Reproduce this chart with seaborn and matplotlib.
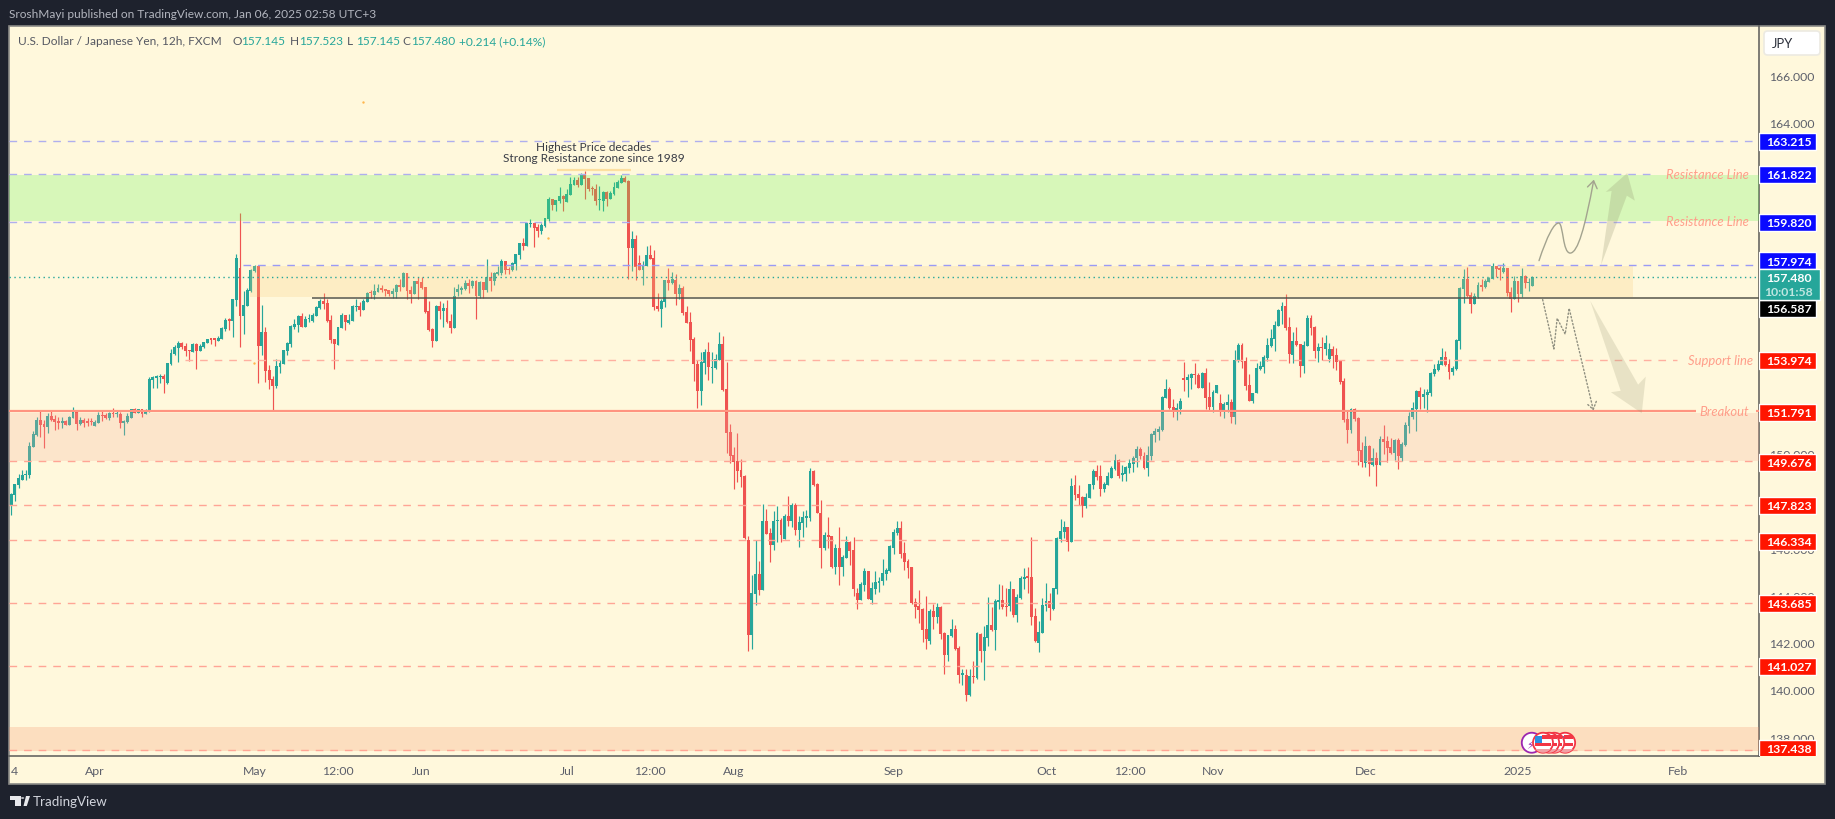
import numpy as np
import pandas as pd
import matplotlib
matplotlib.use("Agg")
import matplotlib.pyplot as plt
from matplotlib.patches import Rectangle, FancyArrowPatch, FancyBboxPatch, Polygon, Ellipse
from matplotlib.path import Path
import seaborn as sns

# USD/JPY 12h candles
opens = [
    147.80, 148.25, 148.69, 148.87, 149.08, 149.10, 150.30, 150.79, 151.41, 151.26,
    151.14, 151.59, 151.47, 151.38, 151.31, 151.38, 151.23, 151.50, 151.76, 151.24,
    151.41, 151.35, 151.35, 151.18, 151.31, 151.64, 151.62, 151.51, 151.73, 151.66,
    151.68, 151.31, 151.34, 151.52, 151.88, 151.73, 151.88, 151.69, 151.79, 153.13,
    153.22, 153.23, 153.29, 152.99, 153.80, 154.22, 154.49, 154.68, 154.54, 154.37,
    154.32, 154.63, 154.36, 154.50, 154.68, 154.85, 154.85, 154.77, 154.85, 155.28,
    155.67, 155.63, 156.52, 157.86, 155.84, 156.26, 156.90, 157.73, 157.94, 154.57,
    155.15, 153.53, 153.16, 152.86, 153.68, 153.80, 154.36, 154.64, 155.36, 155.46,
    155.83, 155.36, 155.70, 155.62, 155.84, 156.15, 156.46, 156.38, 155.67, 154.85,
    154.61, 155.30, 155.87, 155.54, 155.63, 156.22, 156.25, 156.08, 156.43, 156.81,
    156.72, 156.86, 157.00, 156.96, 156.91, 156.76, 156.86, 157.15, 157.07, 157.65,
    156.93, 156.76, 157.31, 157.27, 157.05, 156.04, 155.28, 154.77, 156.25, 156.04,
    156.15, 155.62, 155.32, 156.83, 156.94, 156.97, 157.22, 157.08, 157.31, 156.67,
    157.27, 156.93, 157.48, 157.31, 157.59, 157.66, 158.14, 157.80, 157.78, 158.03,
    158.42, 158.92, 158.79, 159.72, 159.76, 159.59, 159.43, 159.64, 159.93, 160.78,
    160.53, 160.71, 160.91, 160.65, 160.96, 161.37, 161.58, 161.37, 161.84, 161.67,
    161.25, 161.20, 160.74, 160.71, 161.08, 160.76, 160.99, 161.25, 161.47, 161.65,
    161.56, 158.71, 159.08, 158.05, 157.79, 157.94, 158.43, 158.28, 156.25, 156.11,
    156.42, 157.34, 157.22, 157.34, 156.75, 157.02, 156.00, 155.57, 154.85, 153.81,
    152.64, 153.83, 154.31, 153.63, 153.63, 153.97, 154.65, 152.74, 150.92, 149.93,
    149.69, 149.30, 149.04, 146.33, 142.31, 144.04, 144.89, 144.22, 147.16, 146.62,
    146.13, 147.13, 147.18, 146.38, 147.35, 147.15, 147.83, 146.78, 147.06, 147.29,
    147.26, 149.27, 148.70, 147.50, 146.00, 146.53, 146.50, 145.20, 146.00, 145.20,
    145.58, 146.27, 145.92, 144.12, 143.81, 144.44, 145.01, 143.81, 144.25, 144.52,
    144.61, 144.92, 145.01, 146.01, 146.64, 146.83, 145.79, 145.45, 145.19, 143.72,
    143.53, 143.42, 142.58, 142.07, 143.32, 143.08, 143.50, 142.41, 141.47, 142.27,
    142.58, 141.76, 140.62, 140.62, 139.78, 140.58, 140.50, 142.36, 141.64, 142.19,
    142.73, 142.53, 143.73, 143.82, 143.55, 143.53, 144.27, 143.16, 143.88, 144.69,
    144.78, 144.78, 143.12, 141.99, 142.41, 143.55, 143.75, 143.42, 144.27, 146.40,
    146.69, 146.89, 146.26, 148.67, 148.27, 148.15, 147.78, 148.12, 148.67, 149.26,
    149.04, 148.50, 148.67, 148.98, 149.35, 149.75, 149.10, 149.13, 149.41, 149.58,
    149.80, 150.20, 149.91, 149.39, 149.91, 150.80, 150.93, 151.00, 152.36, 152.74,
    151.97, 151.75, 151.89, 153.19, 153.13, 153.22, 153.36, 153.33, 152.78, 153.40,
    152.40, 151.99, 152.57, 152.14, 151.85, 152.06, 152.17, 151.55, 153.92, 154.60,
    153.92, 152.91, 152.23, 152.57, 153.58, 153.68, 154.06, 154.56, 154.87, 155.40,
    156.05, 156.25, 155.36, 154.18, 154.77, 154.64, 153.71, 154.57, 155.74, 155.36,
    154.35, 154.51, 154.42, 154.01, 154.43, 154.18, 153.94, 153.08, 151.47, 151.00,
    151.89, 151.51, 150.17, 149.59, 150.32, 149.52, 149.80, 149.52, 150.62, 150.54,
    150.28, 150.03, 150.58, 149.82, 150.37, 151.17, 151.55, 151.89, 152.65, 152.40,
    152.48, 152.57, 153.37, 153.54, 153.75, 154.09, 153.79, 153.46, 153.58, 154.77,
    156.97, 157.39, 156.72, 156.33, 156.63, 157.14, 157.05, 157.27, 157.39, 157.94,
    157.84, 157.68, 157.86, 156.84, 156.55, 157.31, 156.76, 157.52, 157.22, 157.10,
]
highs = [
    148.32, 148.71, 149.14, 149.31, 149.31, 150.49, 150.94, 151.55, 151.79, 151.41,
    151.72, 151.83, 151.62, 151.55, 151.55, 151.44, 151.61, 151.96, 151.80, 151.55,
    151.51, 151.51, 151.51, 151.43, 151.76, 151.79, 151.71, 151.75, 151.93, 151.79,
    151.75, 151.43, 151.73, 151.88, 151.93, 151.89, 151.88, 151.89, 153.23, 153.27,
    153.33, 153.37, 153.36, 153.82, 154.43, 154.60, 154.77, 154.71, 154.68, 154.37,
    154.67, 154.67, 154.64, 154.73, 154.85, 154.85, 154.85, 154.97, 155.37, 155.73,
    155.74, 156.53, 158.45, 160.19, 156.90, 157.00, 157.82, 157.99, 157.97, 156.29,
    155.35, 153.75, 153.29, 154.01, 153.96, 154.37, 154.73, 155.43, 155.70, 155.87,
    155.94, 155.84, 155.91, 155.95, 156.25, 156.55, 156.80, 156.55, 155.87, 154.85,
    155.35, 155.95, 155.87, 155.91, 156.29, 156.55, 156.40, 156.55, 156.86, 156.94,
    157.17, 157.17, 157.14, 156.96, 156.91, 157.00, 157.18, 157.39, 157.68, 157.65,
    157.08, 157.31, 157.46, 157.46, 157.05, 156.46, 155.33, 156.28, 156.48, 156.38,
    156.50, 155.91, 157.05, 157.18, 157.11, 157.36, 157.39, 157.36, 157.35, 157.32,
    157.27, 158.24, 157.67, 157.70, 157.96, 158.24, 158.14, 157.92, 158.11, 158.45,
    158.92, 159.13, 159.76, 159.93, 159.76, 159.72, 159.75, 159.96, 160.85, 160.78,
    160.74, 161.29, 160.95, 161.20, 161.71, 161.73, 161.73, 161.87, 161.97, 161.67,
    161.33, 161.42, 161.33, 161.13, 161.13, 161.13, 161.48, 161.59, 161.79, 161.74,
    161.59, 159.42, 159.25, 158.40, 158.16, 158.79, 158.82, 158.62, 156.80, 156.54,
    157.34, 157.85, 157.69, 157.59, 157.17, 157.08, 156.25, 156.00, 154.92, 153.97,
    154.31, 154.43, 154.71, 154.31, 154.20, 155.17, 155.00, 153.88, 151.26, 150.30,
    150.87, 149.77, 149.09, 146.53, 144.85, 146.33, 145.45, 147.86, 147.66, 146.83,
    147.58, 147.78, 147.27, 147.43, 148.20, 147.92, 147.89, 147.38, 147.57, 147.61,
    149.38, 149.30, 148.77, 148.03, 146.67, 147.32, 146.53, 146.19, 146.89, 145.69,
    146.50, 146.32, 146.47, 144.32, 144.55, 145.15, 145.04, 144.58, 145.04, 144.76,
    145.53, 145.16, 146.12, 146.81, 147.15, 147.16, 146.27, 145.53, 145.22, 143.87,
    144.21, 143.47, 143.99, 143.42, 143.65, 143.68, 143.53, 142.45, 142.30, 143.00,
    142.73, 141.84, 140.88, 140.88, 140.88, 141.22, 142.44, 142.42, 142.70, 143.93,
    143.50, 143.84, 144.47, 144.44, 144.30, 144.62, 144.27, 144.05, 144.81, 145.15,
    145.19, 146.47, 143.45, 142.92, 143.88, 144.53, 144.09, 144.30, 146.49, 147.23,
    147.16, 146.89, 148.97, 149.09, 148.67, 148.20, 148.35, 148.70, 149.35, 149.52,
    149.52, 148.79, 149.24, 149.49, 149.99, 149.77, 149.52, 149.49, 149.77, 149.89,
    150.34, 150.28, 150.08, 150.34, 150.87, 151.07, 151.16, 152.45, 153.16, 152.82,
    152.31, 152.14, 152.36, 153.89, 153.36, 153.41, 153.84, 153.41, 153.44, 153.63,
    153.02, 152.71, 152.91, 152.52, 152.17, 152.52, 152.31, 154.40, 154.68, 154.67,
    154.09, 153.37, 152.57, 153.84, 153.92, 154.18, 154.88, 155.28, 155.61, 156.12,
    156.43, 156.76, 155.78, 155.15, 155.35, 154.64, 154.77, 155.87, 155.87, 155.39,
    154.68, 154.94, 155.02, 154.68, 154.54, 154.47, 153.96, 153.19, 151.80, 151.95,
    151.93, 151.55, 150.51, 150.75, 150.37, 150.24, 150.06, 150.75, 151.21, 150.75,
    150.66, 150.62, 150.66, 150.49, 151.34, 151.75, 152.17, 152.69, 152.82, 152.74,
    152.74, 153.44, 153.79, 153.96, 154.47, 154.35, 154.01, 153.71, 154.85, 157.05,
    157.82, 157.90, 156.84, 156.80, 157.27, 157.39, 157.39, 157.48, 158.07, 157.94,
    157.94, 158.07, 157.86, 157.05, 157.52, 157.31, 157.86, 157.56, 157.44, 157.52,
]
lows = [
    147.42, 148.01, 148.56, 148.87, 148.90, 148.98, 150.30, 150.76, 150.72, 150.25,
    150.89, 151.37, 151.02, 151.04, 151.09, 151.23, 151.23, 151.50, 151.00, 151.23,
    151.14, 151.17, 151.20, 151.18, 151.31, 151.40, 151.47, 151.44, 151.57, 151.57,
    151.09, 150.80, 151.28, 151.52, 151.73, 151.73, 151.57, 151.68, 151.78, 152.76,
    152.79, 152.98, 152.58, 152.95, 153.75, 154.18, 153.89, 154.43, 154.15, 153.94,
    154.32, 153.60, 154.36, 154.46, 154.68, 154.64, 154.57, 154.77, 154.85, 155.21,
    155.23, 154.95, 156.26, 154.53, 155.08, 156.26, 156.83, 157.67, 152.99, 154.19,
    153.05, 152.74, 151.85, 152.76, 153.41, 153.80, 154.18, 154.53, 155.28, 155.16,
    155.38, 155.35, 155.59, 155.59, 155.84, 156.12, 156.12, 155.57, 154.70, 153.58,
    154.60, 155.30, 155.23, 155.49, 155.63, 156.05, 155.84, 156.08, 156.40, 156.57,
    156.55, 156.83, 156.86, 156.69, 156.69, 156.57, 156.57, 156.90, 157.07, 156.55,
    156.38, 156.76, 156.55, 156.97, 155.95, 155.19, 154.51, 154.77, 155.70, 155.36,
    155.53, 155.11, 155.32, 156.69, 156.76, 156.94, 156.80, 157.01, 155.70, 156.57,
    156.57, 156.83, 156.90, 157.14, 157.56, 157.58, 157.61, 157.61, 157.75, 157.78,
    158.24, 158.62, 158.79, 159.58, 158.76, 159.17, 159.30, 159.61, 159.84, 160.31,
    160.29, 160.60, 160.27, 160.65, 160.96, 161.36, 161.29, 161.36, 160.78, 161.13,
    160.95, 160.53, 160.31, 160.28, 160.48, 160.76, 160.93, 161.25, 161.47, 161.48,
    157.40, 157.74, 157.34, 157.79, 157.14, 157.94, 158.23, 156.08, 156.03, 155.35,
    156.19, 156.92, 157.17, 156.29, 156.55, 155.85, 155.54, 154.35, 153.08, 151.94,
    152.06, 153.38, 153.11, 153.00, 153.58, 153.97, 152.64, 150.03, 149.60, 148.50,
    148.81, 148.58, 146.38, 141.64, 141.73, 143.59, 144.01, 144.22, 146.59, 145.41,
    145.92, 146.27, 146.27, 146.38, 146.95, 146.89, 146.55, 146.04, 146.46, 146.89,
    147.16, 148.61, 147.50, 145.15, 145.92, 146.02, 145.15, 144.92, 144.44, 144.81,
    145.58, 145.27, 143.99, 143.42, 143.81, 144.19, 143.84, 143.65, 144.04, 144.15,
    144.42, 144.64, 144.98, 145.73, 146.55, 145.59, 145.07, 144.73, 143.65, 143.04,
    142.81, 142.02, 141.73, 141.96, 142.58, 142.81, 142.15, 140.67, 141.22, 142.24,
    141.68, 140.30, 140.21, 139.53, 139.73, 140.27, 140.45, 141.16, 140.41, 141.84,
    142.48, 141.68, 143.42, 143.41, 143.12, 143.35, 143.10, 142.88, 143.84, 144.27,
    144.12, 142.76, 142.02, 141.59, 142.41, 143.35, 142.95, 143.38, 144.07, 146.27,
    146.43, 145.89, 146.26, 148.04, 147.84, 147.32, 147.69, 148.12, 148.50, 148.89,
    148.22, 148.36, 148.67, 148.95, 149.32, 148.98, 148.86, 148.86, 149.18, 149.24,
    149.42, 149.77, 149.35, 149.07, 149.75, 150.51, 150.59, 150.97, 152.36, 151.89,
    151.57, 151.42, 151.68, 152.65, 152.41, 152.74, 152.95, 152.78, 152.78, 151.89,
    151.86, 151.78, 152.57, 151.61, 151.51, 151.75, 151.30, 151.26, 153.89, 153.64,
    152.69, 152.23, 152.14, 152.57, 153.55, 153.41, 153.94, 154.51, 154.36, 155.39,
    155.49, 155.23, 153.84, 153.84, 154.54, 153.25, 153.41, 154.54, 155.02, 154.05,
    153.88, 153.96, 154.18, 153.87, 153.63, 153.55, 152.95, 151.35, 150.45, 150.87,
    151.38, 149.52, 149.44, 149.44, 149.05, 149.48, 148.63, 149.52, 149.99, 149.65,
    149.99, 149.75, 149.35, 149.69, 150.34, 150.87, 151.47, 150.96, 151.89, 151.93,
    151.78, 152.45, 153.27, 153.48, 153.75, 153.70, 153.16, 153.33, 153.54, 154.43,
    156.38, 156.63, 155.95, 156.33, 156.59, 156.89, 157.01, 157.27, 157.39, 157.48,
    157.35, 157.65, 156.67, 156.00, 156.55, 156.42, 156.63, 157.01, 156.89, 157.10,
]
closes = [
    148.29, 148.71, 148.97, 149.08, 149.14, 150.32, 150.82, 151.41, 151.21, 151.14,
    151.59, 151.43, 151.35, 151.31, 151.38, 151.23, 151.57, 151.75, 151.26, 151.41,
    151.30, 151.31, 151.33, 151.34, 151.64, 151.58, 151.51, 151.72, 151.69, 151.69,
    151.31, 151.38, 151.58, 151.88, 151.73, 151.88, 151.69, 151.83, 153.16, 153.23,
    153.24, 153.27, 153.17, 153.82, 154.26, 154.51, 154.68, 154.51, 154.36, 154.35,
    154.64, 154.36, 154.57, 154.73, 154.85, 154.83, 154.83, 154.90, 155.32, 155.66,
    155.63, 156.53, 158.28, 155.84, 156.29, 156.91, 157.77, 157.94, 154.57, 155.15,
    153.51, 153.13, 152.86, 153.71, 153.84, 154.37, 154.68, 155.40, 155.49, 155.84,
    155.38, 155.71, 155.74, 155.86, 156.21, 156.48, 156.33, 155.60, 154.83, 154.64,
    155.35, 155.87, 155.59, 155.66, 156.25, 156.25, 156.09, 156.48, 156.81, 156.79,
    156.90, 157.01, 156.94, 156.90, 156.76, 156.90, 157.15, 157.07, 157.65, 156.90,
    156.76, 157.31, 157.18, 157.00, 156.00, 155.23, 154.77, 156.25, 156.04, 156.15,
    155.56, 155.32, 156.67, 156.97, 157.00, 157.22, 157.11, 157.31, 156.67, 157.28,
    156.93, 157.48, 157.31, 157.66, 157.69, 158.14, 157.78, 157.78, 158.07, 158.45,
    158.92, 158.79, 159.76, 159.75, 159.55, 159.43, 159.66, 159.96, 160.78, 160.53,
    160.74, 160.91, 160.78, 160.99, 161.41, 161.58, 161.37, 161.84, 161.63, 161.20,
    161.19, 160.70, 160.78, 161.08, 160.76, 161.03, 161.28, 161.48, 161.65, 161.48,
    158.71, 159.08, 157.88, 157.79, 157.97, 158.43, 158.23, 156.20, 156.11, 156.46,
    157.34, 157.22, 157.39, 156.75, 157.02, 155.95, 155.54, 154.82, 153.81, 152.64,
    153.88, 154.31, 153.66, 153.66, 154.00, 154.65, 152.68, 150.89, 149.89, 149.64,
    149.26, 149.01, 146.43, 142.31, 144.10, 144.89, 144.21, 147.16, 146.59, 146.13,
    147.13, 147.16, 146.56, 147.35, 147.16, 147.83, 146.78, 147.10, 147.32, 147.32,
    149.27, 148.66, 147.50, 146.01, 146.55, 146.49, 145.20, 146.00, 145.20, 145.62,
    146.26, 145.89, 144.27, 143.81, 144.47, 145.01, 143.84, 144.30, 144.55, 144.62,
    144.95, 145.07, 146.07, 146.67, 146.83, 145.75, 145.41, 145.16, 143.69, 143.50,
    143.38, 142.55, 142.15, 143.35, 143.08, 143.50, 142.36, 141.47, 142.30, 142.58,
    141.73, 140.62, 140.73, 139.78, 140.58, 140.55, 142.39, 141.64, 142.24, 142.73,
    142.52, 143.76, 143.79, 143.50, 143.50, 144.27, 143.16, 143.93, 144.73, 144.79,
    144.75, 143.08, 142.07, 142.45, 143.58, 143.75, 143.45, 144.30, 146.43, 146.72,
    146.89, 146.26, 148.63, 148.24, 148.12, 147.78, 148.15, 148.70, 149.26, 149.01,
    148.50, 148.70, 149.04, 149.41, 149.73, 149.07, 149.18, 149.44, 149.60, 149.83,
    150.20, 149.89, 149.39, 149.94, 150.83, 150.96, 151.04, 152.40, 152.74, 151.93,
    151.75, 151.92, 152.23, 153.12, 153.23, 153.36, 153.33, 152.78, 153.41, 152.37,
    151.99, 152.60, 152.91, 151.85, 152.10, 152.17, 151.55, 153.96, 154.60, 153.89,
    152.88, 152.23, 152.57, 153.63, 153.71, 154.09, 154.59, 154.90, 155.45, 156.08,
    156.25, 155.32, 154.22, 154.77, 154.59, 153.71, 154.60, 155.74, 155.32, 154.35,
    154.51, 154.47, 154.68, 154.42, 154.13, 153.88, 153.03, 151.41, 151.00, 151.89,
    151.47, 150.11, 149.63, 150.32, 149.56, 149.80, 149.52, 150.62, 150.49, 150.24,
    150.03, 150.58, 149.90, 150.41, 151.21, 151.59, 151.93, 152.65, 152.40, 152.53,
    152.61, 153.41, 153.58, 153.79, 154.09, 153.75, 153.46, 153.63, 154.81, 157.01,
    157.39, 156.67, 156.33, 156.67, 157.14, 157.05, 157.31, 157.44, 157.94, 157.82,
    157.79, 157.86, 156.80, 156.55, 157.31, 156.76, 157.52, 157.22, 157.27, 157.48,
]

# horizontal levels
blue_levels = [163.215, 161.822, 159.820, 157.974]
red_levels = [153.974, 151.791, 149.676, 147.823, 146.334, 143.685, 141.027, 137.438]
black_level = 156.587
last_price = 157.480
# where each price tag sits on the axis, the platform pushes them apart
tag_prices = [163.22, 161.82, 159.79, 158.17, 156.15, 153.95, 151.75, 149.63, 147.81, 146.29, 143.66, 141.00, 137.52]
tag_texts = ["163.215", "161.822", "159.820", "157.974", "156.587", "153.974", "151.791",
             "149.676", "147.823", "146.334", "143.685", "141.027", "137.438"]
tag_colors = ["#0A0AFF"] * 4 + ["#000000"] + ["#FF1500"] * 8

ytick_vals = list(range(138, 168, 2))
xtick_pos = [0.9, 23.1, 67, 90, 112.9, 153, 176, 199, 243, 285, 308, 331, 373, 415, 459]
xtick_labels = ["4", "Apr", "May", "12:00", "Jun", "Jul", "12:00", "Aug", "Sep", "Oct", "12:00", "Nov", "Dec", "2025", "Feb"]

# drawings on top of the chart, as bar number and price
curve_x = [420.8, 423, 425, 426.3, 427.5, 427.3, 429.4, 431.5, 433.5, 435.9]
curve_y = [158.17, 159.2, 159.8, 159.76, 159.7, 158.49, 158.49, 158.5, 159.6, 161.6]
zig_x = [421.8, 424.9, 425.8, 428.0, 429.1, 435.8]
zig_y = [156.52, 154.43, 155.73, 155.06, 156.15, 151.82]
up_arrow_x = [437.9, 440.8, 439.2, 445.1, 447.2, 445.0]
up_arrow_y = [157.99, 161.12, 161.08, 161.88, 160.71, 160.92]
down_arrow_x = [434.9, 448.1, 450.2, 449.1, 440.6, 443.3]
down_arrow_y = [156.47, 152.92, 153.26, 151.71, 152.60, 152.66]
dots_x = [96.9, 66.9, 147.8]
dots_y = [164.89, 153.84, 159.13]
flag_bars = [428.0, 425.0, 423.6, 421.9]   # back to front
event_bar = 418.8
event_price = 137.76

W, H = 1835, 820
BAR0, BAR_W = 11.3, 3.6305   # pixel of bar 0, pixels per bar
UP, DOWN = "#26A69A", "#EF5350"
PANEL = "#FFF8DC"
DARK = "#1E222D"
FONT = "Lato"

sns.set_theme(style="white", rc={"axes.facecolor": "none", "figure.facecolor": DARK})
plt.rcParams["font.family"] = [FONT, "DejaVu Sans"]

df = pd.DataFrame({"open": opens, "high": highs, "low": lows, "close": closes})
df["bar"] = np.arange(len(df))
df["up"] = df["close"] >= df["open"]
df["base"] = df[["open", "close"]].min(axis=1)
df["body"] = (df["close"] - df["open"]).abs().clip(lower=0.05)

fig = plt.figure(figsize=(W / 100, H / 100), dpi=100, facecolor=DARK)


def box(x0, y0, x1, y1):
    return [x0 / W, 1 - y1 / H, (x1 - x0) / W, (y1 - y0) / H]


# light panel behind plot and axes
fig.add_artist(Rectangle((8.5 / W, 1 - 784.5 / H), (1825 - 8.5) / W, (784.5 - 27) / H, transform=fig.transFigure,
                         facecolor=PANEL, edgecolor="#8A8A86", linewidth=1.2))

ax = fig.add_axes(box(8.5, 27, 1759, 757), zorder=2)
pax = fig.add_axes(box(1759, 27, 1825, 757), zorder=3, sharey=ax)
pax.patch.set_visible(False)

# candles
ax.vlines(df["bar"], df["low"], df["high"], colors=np.where(df["up"], UP, DOWN), linewidth=0.85, zorder=2)
for is_up, color in [(True, UP), (False, DOWN)]:
    part = df[df["up"] == is_up]
    sns.barplot(data=part, x="bar", y="body", bottom=part["base"], native_scale=True, width=0.8,
                color=color, saturation=1, errorbar=None, linewidth=0, ax=ax, zorder=3)

xmin = (8.5 - BAR0) / BAR_W
xmax = (1759 - BAR0) / BAR_W
ymax = 166 + (76.7 - 27) / 23.62
ymin = 166 - (757 - 76.7) / 23.62

# zones sit over the candles and tint them a little
ax.fill_between([xmin, xmax], 159.86, 161.79, color="#63F554", alpha=0.25, lw=0, zorder=4)
ax.fill_between([xmin, xmax], 149.69, 151.72, color="#F7AD9C", alpha=0.25, lw=0, zorder=4)
ax.fill_between([xmin, xmax], 137.41, 138.44, color="#F7916C", alpha=0.25, lw=0, zorder=4)
ax.fill_between([65.8, 446.6], 156.64, 157.95, color="#F9CE80", alpha=0.25, lw=0, zorder=4)

dash = (0, (5.5, 5))
ax.hlines(blue_levels[0], xmin, 479.8, color="#AFAFEE", lw=1.0, linestyles=dash, zorder=5)
ax.hlines(blue_levels[1:3], xmin, 452, color="#AFAFEE", lw=1.0, linestyles=dash, zorder=5)
ax.hlines(blue_levels[3], 63.8, 481, color="#9A9AF5", lw=1.0, linestyles=dash, zorder=5)
ax.hlines(red_levels[0], 47.8, 458.8, color="#FFB0A0", lw=1.0, linestyles=dash, zorder=5)
for lvl in red_levels[2:]:
    ax.hlines(lvl, xmin, 479.8, color="#FFA595", lw=1.0, linestyles=dash, zorder=5)
ax.hlines([red_levels[1]] * 2, [xmin, 480.6], [464, xmax], color="#FF9480", lw=1.6, zorder=5)
ax.hlines(black_level, 82.8, xmax, color="#56564C", lw=1.1, zorder=5)
ax.hlines(last_price, xmin, 480.6, color=UP, lw=1.0, linestyles=(0, (1, 2.5)), zorder=5)
ax.hlines(162.02, 150.3, 170.7, color="#FDDFA0", lw=1.6, zorder=5)
ax.scatter(dots_x, dots_y, s=3, color="#FFB74D", linewidths=0, zorder=5)

# the two scenarios drawn by the author
ax.fill(up_arrow_x, up_arrow_y, color="#8E8E6A", alpha=0.24, lw=0, zorder=5)
ax.fill(down_arrow_x, down_arrow_y, color="#8E8E6A", alpha=0.2, lw=0, zorder=5)
codes = [Path.MOVETO] + [Path.CURVE4] * 9
ax.add_patch(FancyArrowPatch(path=Path(np.column_stack([curve_x, curve_y]), codes), transform=ax.transData,
                             arrowstyle="->,head_length=3.2,head_width=2.2", mutation_scale=1.6, color="#A3A38F",
                             lw=1.0, zorder=6))
ax.add_patch(FancyArrowPatch(path=Path(np.column_stack([zig_x, zig_y])), transform=ax.transData,
                             arrowstyle="->,head_length=3.2,head_width=2.2", mutation_scale=1.6, color="#8F8F80",
                             lw=1.0, linestyle=(0, (1, 1.6)), zorder=6))

# calendar event bubbles, width and height in bars and yen so they come out round
rx, ry = 5.5, 20 / 23.62
ax.add_patch(Ellipse((event_bar, event_price), rx, ry, facecolor="white", edgecolor="#9C27B0", lw=1.3, zorder=7))
ax.text(event_bar - 0.4, event_price - 0.1, "⚡", color="#9C27B0", fontsize=8, ha="center", va="center",
        family="DejaVu Sans", zorder=7)
for i, fb in enumerate(flag_bars):
    z = 7.5 + i * 0.1
    disc = Ellipse((fb, event_price), rx, ry, facecolor="white", edgecolor="#F23645", lw=1.3, zorder=z)
    ax.add_patch(disc)
    for (x0, y0, w, h, c) in [(-0.4, 0.17, 2.6, 0.14, "#F23645"), (-2.2, -0.14, 4.4, 0.14, "#F23645"),
                              (-2.2, -0.42, 4.4, 0.14, "#F2A0A5"), (-2.2, -0.02, 1.9, 0.32, "#2B8FE0")]:
        rect = Rectangle((fb + x0, event_price + y0), w, h, facecolor=c, lw=0, zorder=z)
        ax.add_patch(rect)
        rect.set_clip_path(disc)

# real axes, ticks on the right and below
ax.set_xlim(xmin, xmax)
ax.set_ylim(ymin, ymax)
ax.set_xlabel("")
ax.set_ylabel("")
ax.yaxis.tick_right()
ax.set_yticks(ytick_vals, [f"{v:.3f}" for v in ytick_vals])
ax.set_xticks(xtick_pos, xtick_labels)
ax.tick_params(axis="both", length=0, labelsize=8.8, labelcolor="#5D606B")
ax.tick_params(axis="y", pad=7.5)
ax.tick_params(axis="x", pad=6.5)
for side in ["left", "top"]:
    ax.spines[side].set_visible(False)
for side in ["right", "bottom"]:
    ax.spines[side].set_color("#5A5A58")
    ax.spines[side].set_linewidth(1.1)
ax.grid(False)

# price tags in the right strip
pax.set_xlim(0, 66)
pax.axis("off")
tag_h = 17 / 23.62
tag_size = 8.8
pax.barh(tag_prices, 57, left=0, height=tag_h, color=tag_colors, zorder=2)
for p, t in zip(tag_prices, tag_texts):
    pax.text(30, p - 0.02, t, color="white", fontsize=tag_size, fontweight="bold", ha="center", va="center", zorder=3)
pax.barh(157.16, 61, left=0, height=31 / 23.62, color=UP, zorder=2.5)
pax.text(30, 157.47, "157.480", color="white", fontsize=tag_size, fontweight="bold", ha="center", va="center", zorder=3)
pax.text(30, 156.86, "10:01:58", color="#BFE6E1", fontsize=tag_size, fontweight="bold", ha="center", va="center", zorder=3)

# JPY button
fig.add_artist(FancyBboxPatch((1764 / W, 1 - 56 / H), 56 / W, 24 / H, transform=fig.transFigure,
                              boxstyle="round,pad=0,rounding_size=0.002", facecolor="white", edgecolor="#ECEAE2",
                              linewidth=1.2, zorder=5, mutation_aspect=2.2))
fig.text(1772 / W, 1 - 44 / H, "JPY", color="#2A2E39", fontsize=9.4, va="center", zorder=6)

# chart title line, pieces placed one after another
fig.text(9 / W, 1 - 15 / H, "SroshMayi published on TradingView.com, Jan 06, 2025 02:58 UTC+3", color="#B2B5BE",
         fontsize=8.6, va="center")
title_y = 1 - 41.5 / H
title_size = 8.6
fig.text(18 / W, title_y, "U.S. Dollar / Japanese Yen, 12h, FXCM", color="#555862", fontsize=title_size, va="center", zorder=6)
for x, head, val in [(232, "O", "157.145"), (290, "H", "157.523"), (347, "L", "157.145"), (402, "C", "157.480")]:
    fig.text(x / W, title_y, head, color="#555862", fontsize=title_size, va="center", zorder=6)
    fig.text((x + 9) / W, title_y, val, color=UP, fontsize=title_size, va="center", zorder=6)
fig.text(459 / W, title_y, "+0.214 (+0.14%)", color=UP, fontsize=title_size, va="center", zorder=6)

# notes on the chart
ax.text(160.5, 162.78, "Highest Price decades\nStrong Resistance zone since 1989", color="#3A3D46", fontsize=8.6,
        ha="center", va="center", linespacing=0.95, zorder=6)
for x, y, t in [(478.7, 161.85, "Resistance Line"), (478.7, 159.83, "Resistance Line"), (479.8, 153.97, "Support line"),
                (478.7, 151.82, "Breakout")]:
    ax.text(x, y, t, color="#FF9E8A", fontsize=9.4, style="italic", ha="right", va="center", zorder=6)

# footer logo and name
for pts in [[(10, 797), (21, 797), (21, 807), (15, 807), (15, 801), (10, 801)],
            [(23.5, 807), (26, 797), (30, 797), (26.8, 807)]]:
    fig.add_artist(Polygon([(x / W, 1 - y / H) for x, y in pts], transform=fig.transFigure, facecolor="#E8E9ED", lw=0))
fig.add_artist(plt.Circle((22.6 / W, 1 - 799 / H), 0.0009, transform=fig.transFigure, color="#E8E9ED", lw=0))
fig.text(33 / W, 1 - 802.5 / H, "TradingView", color="#D1D4DC", fontsize=9.6, va="center")

fig.savefig("out.png", dpi=100, facecolor=DARK)
